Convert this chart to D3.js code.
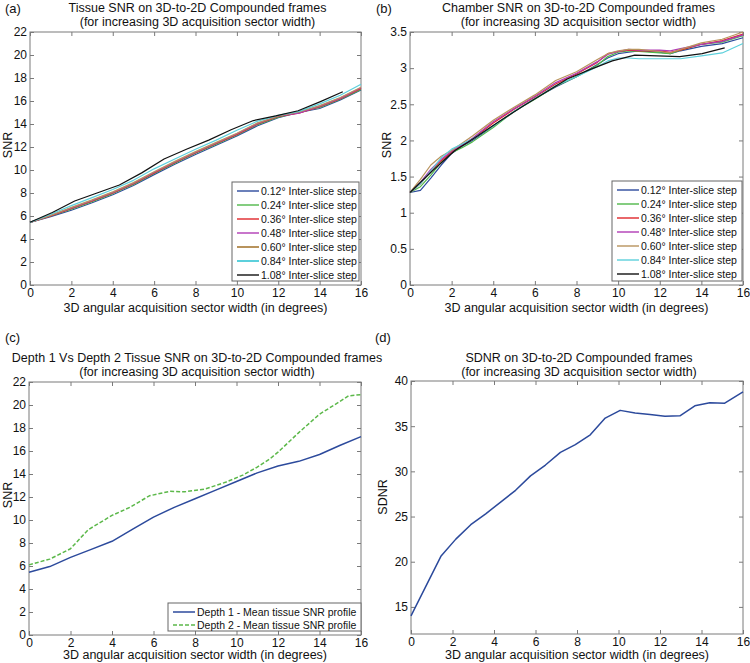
<!DOCTYPE html>
<html><head><meta charset="utf-8">
<script src="https://cdn.jsdelivr.net/npm/d3@7/dist/d3.min.js"></script>
<style>
body{margin:0;background:#fff;}
svg{display:block;font-family:"Liberation Sans",Arial,sans-serif;}
</style></head>
<body><svg id="c" width="750" height="663"></svg>
<script>
// ---------------- DATA ----------------
const xTicks = [0, 2, 4, 6, 8, 10, 12, 14, 16];
const stepLabels = ["0.12\u00b0 Inter-slice step", "0.24\u00b0 Inter-slice step", "0.36\u00b0 Inter-slice step",
  "0.48\u00b0 Inter-slice step", "0.60\u00b0 Inter-slice step", "0.84\u00b0 Inter-slice step", "1.08\u00b0 Inter-slice step"];

// Panel (a) tissue SNR
const aX = [0,1,2,3,4,5,6,7,8,9,10,11,12,13,14,15,16];
const aXBlack = [0,1.08,2.16,3.24,4.32,5.4,6.48,7.56,8.64,9.72,10.8,11.88,12.96,14.04,15.12];
const a012 = [5.45,5.95,6.5,7.15,7.85,8.65,9.6,10.5,11.35,12.15,12.95,13.85,14.55,15.0,15.35,16.1,16.95];
const a024 = [5.45,6.0,6.6,7.25,7.95,8.75,9.7,10.6,11.45,12.25,13.05,13.95,14.6,15.0,15.45,16.15,17.0];
const a036 = [5.45,6.0,6.65,7.3,8.0,8.8,9.75,10.65,11.5,12.3,13.1,14.0,14.65,14.95,15.5,16.2,17.1];
const a048 = [5.45,6.05,6.7,7.35,8.05,8.85,9.8,10.7,11.55,12.35,13.15,14.05,14.7,14.95,15.55,16.25,17.15];
const a060 = [5.45,6.05,6.75,7.4,8.1,8.9,9.85,10.75,11.6,12.4,13.2,14.1,14.7,15.05,15.6,16.3,17.2];
const a084 = [5.45,6.15,6.9,7.6,8.3,9.1,10.1,10.95,11.8,12.6,13.45,14.25,14.75,15.1,15.75,16.5,17.45];
const a108 = [5.45,6.3,7.3,8.0,8.7,9.75,10.95,11.8,12.6,13.5,14.3,14.7,15.15,15.95,16.8];
const aYTicks = [0,2,4,6,8,10,12,14,16,18,20,22];

// Panel (b) chamber SNR
const bX = [0,0.5,1,1.5,2,2.5,3,4,5,6,7,8,9,9.5,10,10.5,11,12,12.5,13,14,15,16];
const bXBlack = [0,1.08,2.16,3.24,4.32,5.4,6.48,7.56,8.64,9.72,10.8,11.88,12.96,14.04,15.12];
const b012 = [1.28,1.31,1.48,1.66,1.82,1.92,2.0,2.2,2.4,2.58,2.74,2.88,3.05,3.14,3.2,3.22,3.24,3.22,3.2,3.24,3.3,3.34,3.42];
const b024 = [1.28,1.36,1.52,1.7,1.83,1.9,1.98,2.18,2.4,2.57,2.75,2.88,3.04,3.16,3.22,3.24,3.23,3.21,3.2,3.25,3.33,3.36,3.45];
const b036 = [1.28,1.4,1.58,1.72,1.84,1.93,2.02,2.24,2.43,2.6,2.78,2.92,3.08,3.2,3.23,3.25,3.24,3.24,3.22,3.25,3.33,3.38,3.47];
const b048 = [1.28,1.42,1.6,1.74,1.85,1.94,2.03,2.26,2.44,2.61,2.8,2.93,3.09,3.19,3.23,3.26,3.25,3.25,3.24,3.27,3.33,3.37,3.46];
const b060 = [1.28,1.46,1.66,1.78,1.86,1.96,2.06,2.28,2.46,2.63,2.83,2.95,3.12,3.2,3.24,3.26,3.26,3.23,3.21,3.26,3.35,3.4,3.5];
const b084 = [1.28,1.4,1.58,1.76,1.88,1.95,2.02,2.2,2.4,2.58,2.76,2.88,3.02,3.1,3.14,3.14,3.13,3.13,3.13,3.13,3.17,3.21,3.34];
const b108 = [1.28,1.58,1.86,2.06,2.27,2.47,2.66,2.85,2.98,3.1,3.18,3.17,3.16,3.2,3.28];
const bYTicks = [0,0.5,1,1.5,2,2.5,3,3.5];

// Panel (c) depth 1 vs depth 2
const cX = [0,1,2,3,4,5,6,7,8,9,10,11,12,13,14,15,16];
const cDepth1 = [5.45,5.95,6.75,7.45,8.15,9.2,10.25,11.1,11.85,12.6,13.35,14.1,14.7,15.1,15.7,16.5,17.25];
const cXDepth2 = [0,1,2,2.85,4,4.86,5.8,6.8,7.5,8.5,9.5,10.3,11,11.6,12,13,14,14.8,15.4,16];
const cDepth2 = [6.1,6.6,7.5,9.15,10.4,11.1,12.1,12.5,12.45,12.7,13.3,13.9,14.6,15.3,15.9,17.6,19.2,20.1,20.8,20.9];
const cLabels = ["Depth 1 - Mean tissue SNR profile", "Depth 2 - Mean tissue SNR profile"];

// Panel (d) SDNR
const dX = [0,0.72,1.44,2.16,2.88,3.6,4.32,5.04,5.76,6.48,7.2,7.92,8.64,9.36,10.08,10.8,11.52,12.24,12.96,13.68,14.4,15.12,16];
const dSDNR = [14.0,17.3,20.6,22.5,24.1,25.3,26.6,27.9,29.5,30.7,32.1,32.95,34.05,35.9,36.75,36.45,36.3,36.1,36.15,37.25,37.6,37.55,38.8];
const dYTicks = [15,20,25,30,35,40];

// ---------------- DRAWING ----------------
const svg = d3.select("#c");
const stepColors = ["#2c4a9c","#4fb84a","#e0262a","#b03cb5","#b8935c","#5cd0dc","#111111"];
const axisColor = "#7a7a7a";

function panel(o){
  const g = svg.append("g");
  const x = d3.scaleLinear().domain(o.xd).range([o.L, o.R]);
  const y = d3.scaleLinear().domain(o.yd).range([o.B, o.T]);
  g.append("rect").attr("x", o.L).attr("y", o.T).attr("width", o.R-o.L).attr("height", o.B-o.T)
    .attr("fill","#fff").attr("stroke", axisColor).attr("stroke-width",1);
  const tl = 4;
  const bottomAx = d3.axisBottom(x).tickValues(xTicks).tickSize(-tl).tickPadding(3).tickFormat(d3.format("d"));
  const topAx = d3.axisTop(x).tickValues(xTicks).tickSize(-tl).tickFormat("");
  const leftAx = d3.axisLeft(y).tickValues(o.yTicks).tickSize(-tl).tickPadding(3).tickFormat(o.yFmt || d3.format("d"));
  const rightAx = d3.axisRight(y).tickValues(o.yTicks).tickSize(-tl).tickFormat("");
  const style = sel => { sel.select(".domain").remove(); sel.selectAll("line").attr("stroke", axisColor);
    sel.selectAll("text").attr("fill","#111").style("font-size","12px").style("font-family",'"Liberation Sans",Arial,sans-serif'); };
  g.append("g").attr("transform",`translate(0,${o.B})`).call(bottomAx).call(style);
  g.append("g").attr("transform",`translate(0,${o.T})`).call(topAx).call(style);
  g.append("g").attr("transform",`translate(${o.L},0)`).call(leftAx).call(style);
  g.append("g").attr("transform",`translate(${o.R},0)`).call(rightAx).call(style);
  const line = d3.line().x(d=>x(d[0])).y(d=>y(d[1]));
  o.series.forEach(s=>{
    g.append("path").datum(s.xs.map((v,i)=>[v,s.ys[i]])).attr("d", line)
      .attr("fill","none").attr("stroke", s.color).attr("stroke-width", s.w || 1.2)
      .attr("stroke-dasharray", s.dash || null).attr("stroke-linejoin","round");
  });
  o.title.forEach((t,i)=>{
    g.append("text").attr("x", (o.L+o.R)/2 + 2).attr("y", o.titleY + i*13.5).attr("text-anchor","middle")
      .style("font-size","12.5px").attr("fill","#111").text(t);
  });
  g.append("text").attr("x", o.tagX).attr("y", o.tagY).style("font-size","13px").attr("fill","#111").text(o.tag);
  g.append("text").attr("x", (o.L+o.R)/2).attr("y", o.B + (o.xlOff || 27)).attr("text-anchor","middle")
    .style("font-size","12.5px").attr("fill","#111").text(o.xlabel);
  g.append("text").attr("transform", `translate(${o.ylX},${o.ylY}) rotate(-90)`).attr("text-anchor","middle")
    .style("font-size","12.5px").attr("fill","#111").text(o.ylabel);
  if (o.legend){
    const lg = o.legend;
    g.append("rect").attr("x", lg.x).attr("y", lg.y).attr("width", lg.w).attr("height", lg.h)
      .attr("fill","#fff").attr("stroke","#666").attr("stroke-width",1);
    lg.items.forEach((it,i)=>{
      const yy = lg.y + 9 + i*lg.dy;
      g.append("line").attr("x1", lg.x+5).attr("x2", lg.x+27).attr("y1", yy).attr("y2", yy)
        .attr("stroke", it.color).attr("stroke-width", it.w || 1.4).attr("stroke-dasharray", it.dash || null);
      g.append("text").attr("x", lg.x+29).attr("y", yy+4).style("font-size","10.5px").attr("fill","#111").text(it.label);
    });
  }
}

const xlab = "3D angular acquisition sector width (in degrees)";
const sub = "(for increasing 3D acquisition sector width)";

// (a)
const aSeries = [a012,a024,a036,a048,a060,a084].map((ys,i)=>({xs:aX, ys, color:stepColors[i]}));
aSeries.push({xs:aXBlack, ys:a108, color:stepColors[6]});
panel({L:30,R:361,T:32,B:285, xd:[0,16], yd:[0,22], yTicks:aYTicks, series:aSeries,
  title:["Tissue SNR on 3D-to-2D Compounded frames", sub], titleY:12, tag:"(a)", tagX:5, tagY:13,
  xlabel:xlab, ylabel:"SNR", ylX:12, ylY:145,
  legend:{x:232,y:182,w:127,h:99,dy:14, items:stepLabels.map((l,i)=>({label:l,color:stepColors[i], w: i===4||i===5?2:1.4}))}});

// (b)
const bSeries = [b012,b024,b036,b048,b060,b084].map((ys,i)=>({xs:bX, ys, color:stepColors[i]}));
bSeries.push({xs:bXBlack, ys:b108, color:stepColors[6]});
panel({L:410,R:743,T:32,B:285, xd:[0,16], yd:[0,3.5], yTicks:bYTicks, yFmt:d3.format("~g"), series:bSeries,
  title:["Chamber SNR on 3D-to-2D Compounded frames", sub], titleY:12, tag:"(b)", tagX:376, tagY:13,
  xlabel:xlab, ylabel:"SNR", ylX:391, ylY:145,
  legend:{x:612,y:181,w:130,h:100,dy:14, items:stepLabels.map((l,i)=>({label:l,color:stepColors[i]}))}});

// (c)
panel({L:29,R:361,T:382,B:635, xd:[0,16], yd:[0,22], yTicks:aYTicks,
  series:[{xs:cX, ys:cDepth1, color:"#2c4a9c", w:1.5},{xs:cXDepth2, ys:cDepth2, color:"#5cb84a", w:1.5, dash:"4,2"}],
  title:["Depth 1 Vs Depth 2 Tissue SNR on 3D-to-2D Compounded frames", sub], titleY:362, tag:"(c)", tagX:5, tagY:342,
  xlabel:xlab, xlOff:24, ylabel:"SNR", ylX:12, ylY:495,
  legend:{x:168,y:603,w:193,h:28,dy:13, items:[{label:cLabels[0],color:"#2c4a9c",w:1.5},{label:cLabels[1],color:"#5cb84a",w:1.5,dash:"4,2"}]}});

// (d)
panel({L:411,R:743,T:381,B:634, xd:[0,16], yd:[12,40], yTicks:dYTicks,
  series:[{xs:dX, ys:dSDNR, color:"#2c4a9c", w:1.5}],
  title:["SDNR on 3D-to-2D Compounded frames", sub], titleY:362, tag:"(d)", tagX:375, tagY:342,
  xlabel:xlab, xlOff:25, ylabel:"SDNR", ylX:387, ylY:497});
</script></body></html>
